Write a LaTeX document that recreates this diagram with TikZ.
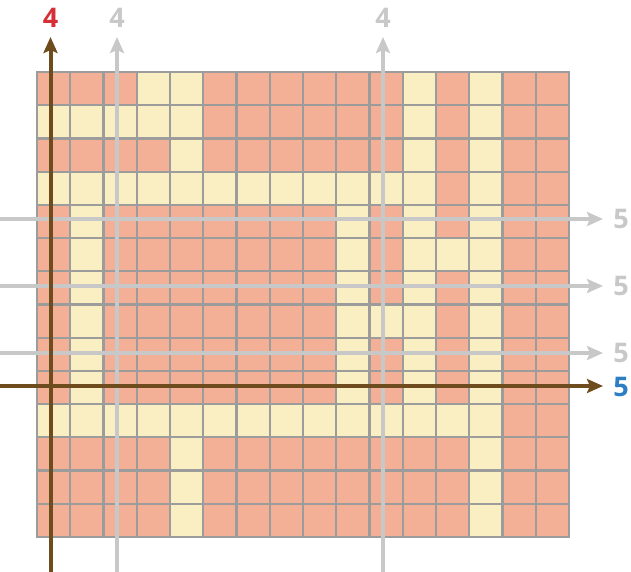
\documentclass[tikz,border=0pt]{standalone}
\usepackage{fontspec}
\setmainfont{Open Sans}
\usetikzlibrary{arrows.meta}
\definecolor{salmon}{HTML}{F4B097}
\definecolor{cream}{HTML}{FAEFC3}
\definecolor{gridgrey}{HTML}{9C9C9C}
\definecolor{arrgrey}{HTML}{C8C8C8}
\definecolor{axbrown}{HTML}{6E4C1E}
\definecolor{labred}{HTML}{D62F36}
\definecolor{labblue}{HTML}{2E7EC4}
\tikzset{
  gridline/.style={draw=gridgrey, line width=2.2pt},
  greyarrow/.style={draw=arrgrey, line width=4pt, -{Stealth[length=16pt,width=14pt,inset=3pt]}},
  brownarrow/.style={draw=axbrown, line width=4pt, -{Stealth[length=16pt,width=14pt,inset=3pt]}},
  lab/.style={inner sep=0pt, font=\fontsize{27}{27}\selectfont\bfseries}
}
\begin{document}
\begin{tikzpicture}[x=1pt,y=-1pt]
\useasboundingbox (0,0) rectangle (631,572);
\def\cw{33.25}
\def\ch{33.214}
% background cells
\fill[salmon] (37,72) rectangle (569,537);
\foreach \r/\cs in {0/{3,4,11,13},1/{0,1,2,3,4,11,13},2/{4,11,13},3/{0,...,11,13},4/{1,9,11,13},5/{1,9,11,12,13},6/{1,9,11,13},7/{1,9,10,11,13},8/{1,9,11,13},9/{1,9,11,13},10/{0,...,13},11/{4,13},12/{4,13},13/{4,13}}{
  \foreach \c in \cs {
    \fill[cream] ({37+\c*\cw},{72+\r*\ch}) rectangle ++(\cw,\ch);
  }
}
% grid lines
\foreach \i in {0,...,16} \draw[gridline] ({37+\i*\cw},72) -- ({37+\i*\cw},537);
\foreach \j in {0,...,14} \draw[gridline] (37,{72+\j*\ch}) -- (569,{72+\j*\ch});
\draw[gridgrey, line width=2.6pt] (37,72) rectangle (569,537);
% labels
\node[lab, text=labred] (l4a) at (50.5,18) {4};
\node[lab, text=arrgrey] (l4b) at (117,18) {4};
\node[lab, text=arrgrey] (l4c) at (383,18) {4};
\node[lab, text=arrgrey] (l5a) at (621,219) {5};
\node[lab, text=arrgrey] (l5b) at (621,286) {5};
\node[lab, text=arrgrey] (l5c) at (621,353) {5};
\node[lab, text=labblue] (l5d) at (621,387) {5};
% arrow end points
\coordinate (v1s) at (50.5,572); \coordinate (v1t) at (50.5,37);
\coordinate (v2s) at (117,572);  \coordinate (v2t) at (117,37);
\coordinate (v3s) at (383,572);  \coordinate (v3t) at (383,37);
\coordinate (h1s) at (0,219); \coordinate (h1t) at (603,219);
\coordinate (h2s) at (0,286); \coordinate (h2t) at (603,286);
\coordinate (h3s) at (0,353); \coordinate (h3t) at (603,353);
\coordinate (h4s) at (0,386); \coordinate (h4t) at (603,386);
% arrows
\draw[greyarrow] (h1s) -- (h1t);
\draw[greyarrow] (h2s) -- (h2t);
\draw[greyarrow] (h3s) -- (h3t);
\draw[greyarrow] (v2s) -- (v2t);
\draw[greyarrow] (v3s) -- (v3t);
\draw[brownarrow] (h4s) -- (h4t);
\draw[brownarrow] (v1s) -- (v1t);
\end{tikzpicture}
\end{document}
